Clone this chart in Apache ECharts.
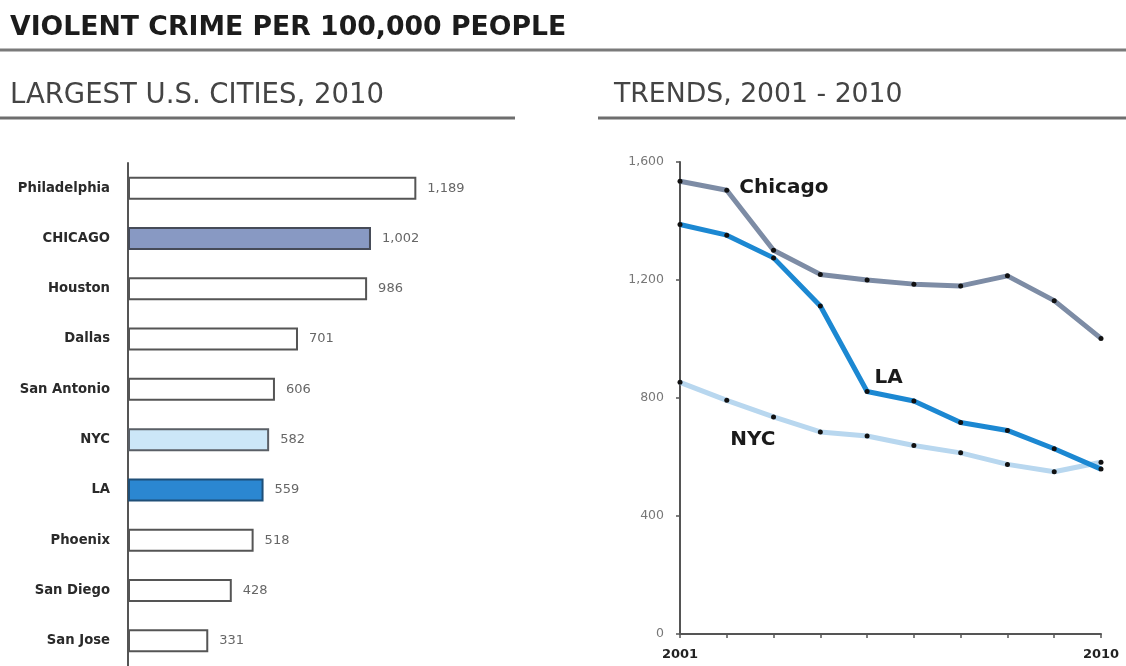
<!DOCTYPE html>
<html>
<head>
<meta charset="utf-8">
<title>Violent crime per 100,000 people</title>
<script src="https://cdn.jsdelivr.net/npm/echarts@6/dist/echarts.min.js"></script>
<style>
  html, body { margin: 0; padding: 0; background: #fff; }
  #chart { width: 1126px; height: 666px; }
</style>
</head>
<body>
<div id="chart"></div>
<script>
// Violent crimes per 100,000 residents, largest U.S. cities, 2010
const cities = ['Philadelphia', 'CHICAGO', 'Houston', 'Dallas', 'San Antonio', 'NYC', 'LA', 'Phoenix', 'San Diego', 'San Jose'];
const crime2010 = [1189, 1002, 986, 701, 606, 582, 559, 518, 428, 331];

// Trend lines, 2001 - 2010
const years = ['2001', '2002', '2003', '2004', '2005', '2006', '2007', '2008', '2009', '2010'];
const chicagoTrend = [1535, 1504, 1301, 1219, 1200, 1186, 1180, 1214, 1130, 1002];
const laTrend = [1388, 1352, 1275, 1112, 822, 790, 717, 690, 628, 559];
const nycTrend = [853, 792, 736, 685, 671, 639, 614, 575, 550, 582];
const trendLabelYears = ['2001', '2010'];

const FONT = '"DejaVu Sans", Verdana, sans-serif';
const fmt = v => Number(v).toLocaleString('en-US');

// highlighted cities in the bar panel
const highlight = {
  CHICAGO: { color: '#8899c3', borderColor: '#464b58' },
  NYC: { color: '#cce7f8', borderColor: '#5a5f66' },
  LA: { color: '#2b87d1', borderColor: '#1f4f78' }
};

const barData = cities.map((c, i) => {
  const h = highlight[c];
  return {
    value: crime2010[i],
    itemStyle: h ? { color: h.color, borderColor: h.borderColor } : undefined
  };
});

// attach the in-chart series name to one point of each line
function withNameLabel(values, idx, text, distance, offset) {
  return values.map((v, i) => i === idx ? {
    value: v,
    label: {
      show: true, position: 'right', distance: distance, offset: offset,
      formatter: text, fontFamily: FONT, fontWeight: 'bold', fontSize: 20, color: '#1a1a1a'
    }
  } : v);
}

const lineCommon = {
  type: 'line',
  xAxisIndex: 1,
  yAxisIndex: 1,
  symbol: 'circle',
  symbolSize: 5,
  itemStyle: { color: '#111' },
  emphasis: { disabled: true },
  silent: true,
  animation: false
};

const chart = echarts.init(document.getElementById('chart'), null, { renderer: 'canvas' });

chart.setOption({
  animation: false,
  backgroundColor: '#fff',
  textStyle: { fontFamily: FONT },
  title: [
    {
      text: 'VIOLENT CRIME PER 100,000 PEOPLE',
      left: 5, top: 10,
      textStyle: { fontFamily: FONT, fontWeight: 'bold', fontSize: 26.7, color: '#1c1c1c' }
    },
    {
      text: 'LARGEST U.S. CITIES, 2010',
      left: 5, top: 77,
      textStyle: { fontFamily: FONT, fontWeight: 'normal', fontSize: 27.5, color: '#444' }
    },
    {
      text: 'TRENDS, 2001 - 2010',
      left: 609, top: 77,
      textStyle: { fontFamily: FONT, fontWeight: 'normal', fontSize: 26.7, color: '#444' }
    }
  ],
  graphic: [
    { type: 'line', shape: { x1: 0, y1: 50, x2: 1126, y2: 50 }, style: { stroke: '#7a7a7a', lineWidth: 3 } },
    { type: 'line', shape: { x1: 0, y1: 118, x2: 515, y2: 118 }, style: { stroke: '#6e6e6e', lineWidth: 3 } },
    { type: 'line', shape: { x1: 598, y1: 118, x2: 1126, y2: 118 }, style: { stroke: '#6e6e6e', lineWidth: 3 } }
  ],
  grid: [
    { left: 128, top: 163, width: 339.5, height: 507, containLabel: false },
    { left: 680, top: 162, right: 25, bottom: 32, containLabel: false }
  ],
  xAxis: [
    {
      gridIndex: 0, type: 'value', min: 0, max: 1400, show: false
    },
    {
      gridIndex: 1, type: 'category', data: years, boundaryGap: false,
      axisLine: { lineStyle: { color: '#555', width: 2 } },
      axisTick: { show: true, length: 4, alignWithLabel: true, interval: 0, lineStyle: { color: '#555', width: 1.5 } },
      axisLabel: {
        interval: 0,
        formatter: v => trendLabelYears.includes(v) ? v : '',
        fontFamily: FONT, fontWeight: 'bold', fontSize: 13, color: '#222', margin: 14
      },
      splitLine: { show: false }
    }
  ],
  yAxis: [
    {
      gridIndex: 0, type: 'category', data: cities, inverse: true,
      axisLine: { show: true, lineStyle: { color: '#555', width: 2 } },
      axisTick: { show: false },
      axisLabel: { fontFamily: FONT, fontWeight: 'bold', fontSize: 13.2, color: '#2a2a2a', margin: 18 }
    },
    {
      gridIndex: 1, type: 'value', min: 0, max: 1600, interval: 400,
      axisLine: { show: true, lineStyle: { color: '#555', width: 2 } },
      axisTick: { show: true, length: 4, lineStyle: { color: '#555', width: 1.5 } },
      axisLabel: { formatter: fmt, fontFamily: FONT, fontSize: 12.5, color: '#777', margin: 16 },
      splitLine: { show: false }
    }
  ],
  series: [
    {
      type: 'bar',
      xAxisIndex: 0,
      yAxisIndex: 0,
      data: barData,
      barWidth: 23,
      itemStyle: { color: '#fff', borderColor: '#555', borderWidth: 2 },
      label: {
        show: true, position: 'right', distance: 11,
        formatter: p => fmt(p.value),
        fontFamily: FONT, fontSize: 13, color: '#666'
      },
      silent: true
    },
    Object.assign({}, lineCommon, {
      name: 'NYC',
      data: withNameLabel(nycTrend, 1, 'NYC', 1, [0, 39]),
      lineStyle: { color: '#b8d7ef', width: 5 },
      z: 3
    }),
    Object.assign({}, lineCommon, {
      name: 'Chicago',
      data: withNameLabel(chicagoTrend, 1, 'Chicago', 10, [0, -3]),
      lineStyle: { color: '#7d8ca5', width: 5 },
      z: 4
    }),
    Object.assign({}, lineCommon, {
      name: 'LA',
      data: withNameLabel(laTrend, 4, 'LA', 5, [0, -14]),
      lineStyle: { color: '#1c88d2', width: 5 },
      z: 5
    })
  ]
});
</script>
</body>
</html>
